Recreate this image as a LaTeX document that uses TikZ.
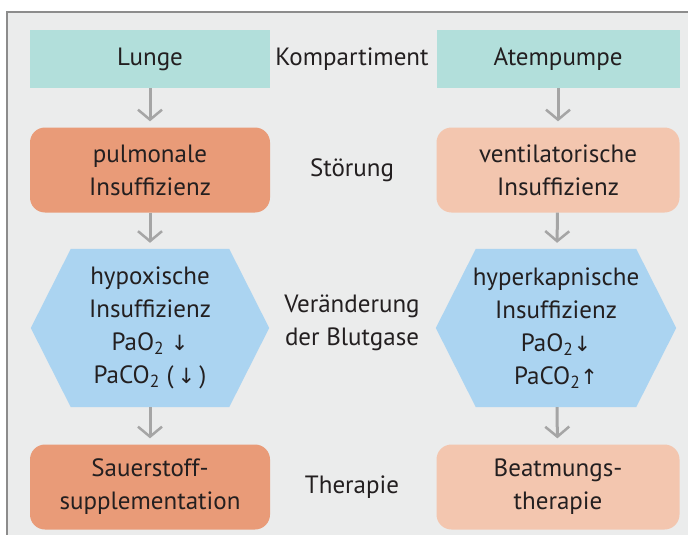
\documentclass[tikz,border=0pt]{standalone}
\usepackage{fontspec}
\setmainfont{PT Sans}
\newfontfamily\arrowfont{DejaVu Sans}
\usetikzlibrary{arrows.meta,backgrounds}

\definecolor{panelGray}{HTML}{EBECEC}
\definecolor{frameGray}{HTML}{8C8C8C}
\definecolor{flowGray}{HTML}{A5A5A5}
\definecolor{tealBox}{HTML}{B2DFDB}
\definecolor{salmonDark}{HTML}{E99B78}
\definecolor{salmonLight}{HTML}{F3C6AF}
\definecolor{hexBlue}{HTML}{ABD4F1}
\definecolor{txtDark}{HTML}{231F20}

\newcommand{\subtwo}{\textsubscript{2}}
\newcommand{\arrdown}{{\arrowfont\fontsize{21}{33}\selectfont ↓}}
\newcommand{\arrup}{{\arrowfont\fontsize{21}{33}\selectfont ↑}}

\begin{document}
\begin{tikzpicture}[x=1pt,y=-1pt,
    every node/.style={font=\fontsize{25}{33}\selectfont, text=txtDark, align=center, inner sep=0pt},
    compbox/.style={fill=tealBox, minimum width=#1, minimum height=58pt},
    darkbox/.style={fill=salmonDark, rounded corners=15pt, minimum width=#1, minimum height=85pt},
    lightbox/.style={fill=salmonLight, rounded corners=15pt, minimum width=#1, minimum height=85pt},
    hexbox/.style={minimum width=#1, minimum height=158pt},
    flow/.style={draw=flowGray, line width=3pt, shorten >=6pt,
        -{Straight Barb[length=10pt,width=24pt,line width=2.5pt]}}]
    \useasboundingbox (0,0) rectangle (688,535);

    % left column
    \node[compbox=240pt] (lunge) at (150,59) {Lunge};
    \node[darkbox=240pt] (pulm) at (150,170) {pulmonale\\Insuffizienz};
    \node[hexbox=238pt] (hypox) at (150,328) {hypoxische\\Insuffizienz\\PaO\subtwo\ \arrdown\\PaCO\subtwo\ (\,\arrdown\,)};
    \node[darkbox=240pt] (sauer) at (150,487) {Sauerstoff-\\supplementation};

    % right column
    \node[compbox=243pt] (pumpe) at (558,59) {Atempumpe};
    \node[lightbox=243pt] (venti) at (558,170) {ventilatorische\\Insuffizienz};
    \node[hexbox=240pt] (hyperk) at (556,328) {hyperkapnische\\Insuffizienz\\PaO\subtwo\arrdown\\PaCO\subtwo\arrup};
    \node[lightbox=243pt] (beatm) at (558,487) {Beatmungs-\\therapie};

    % middle labels
    \node (kompart) at (352,59) {Kompartiment};
    \node (stoer) at (352,170) {Störung};
    \node (blutgas) at (352,323) {Veränderung\\der Blutgase};
    \node (therap) at (352,487) {Therapie};

    % panel and hexagons behind the text
    \begin{scope}[on background layer]
        \fill[panelGray] (7,12) rectangle (690,537);
        \draw[frameGray,line width=2.5pt] (7,537) -- (7,12) -- (690,12);
        \foreach \h in {hypox,hyperk}
            \fill[hexBlue] (\h.west)
                -- ([xshift=40pt]\h.north west)
                -- ([xshift=-40pt]\h.north east)
                -- (\h.east)
                -- ([xshift=-40pt]\h.south east)
                -- ([xshift=40pt]\h.south west)
                -- cycle;
    \end{scope}

    % arrows
    \draw[flow] (lunge) -- (pulm);
    \draw[flow] (pulm) -- (hypox);
    \draw[flow] (hypox) -- (sauer);
    \draw[flow] (pumpe) -- (venti);
    \draw[flow] (venti) -- (hyperk);
    \draw[flow] (hyperk) -- (beatm);
\end{tikzpicture}
\end{document}
